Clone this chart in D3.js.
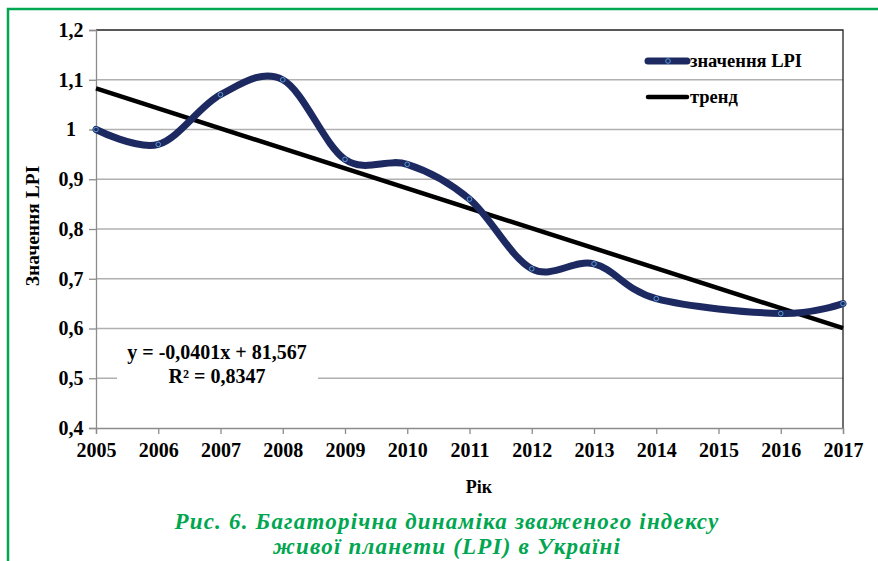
<!DOCTYPE html>
<html>
<head>
<meta charset="utf-8">
<script src="https://cdn.jsdelivr.net/npm/d3@7"></script>
<style>
  body { margin: 0; background: #fff; }
  svg { display: block; font-family: "Liberation Serif", "Times New Roman", serif; }
</style>
</head>
<body>
<svg id="chart"></svg>
<script>
// values (2015 has no point)
const years = [2005, 2006, 2007, 2008, 2009, 2010, 2011, 2012, 2013, 2014, 2016, 2017];
const lpi = [1.00, 0.97, 1.07, 1.10, 0.94, 0.93, 0.86, 0.72, 0.73, 0.66, 0.63, 0.65];
const xTicks = [2005, 2006, 2007, 2008, 2009, 2010, 2011, 2012, 2013, 2014, 2015, 2016, 2017];
const yTicks = [0.4, 0.5, 0.6, 0.7, 0.8, 0.9, 1.0, 1.1, 1.2];
const legendNames = ["значення LPI", "тренд"];
const eqLines = ["y = -0,0401x + 81,567", "R² = 0,8347"];
const caption = ["Рис. 6. Багаторічна динаміка зваженого індексу", "живої планети (LPI) в Україні"];

const width = 878, height = 561;
const navy = "#1d2a62", green = "#00a650";

const svg = d3.select("#chart").attr("width", width).attr("height", height);

// green frame
svg.append("rect")
  .attr("x", 8).attr("y", 9).attr("width", 880).attr("height", 570)
  .attr("fill", "none").attr("stroke", green).attr("stroke-width", 2.5);

const x = d3.scaleLinear().domain([2005, 2017]).range([96, 843]);
const y = d3.scaleLinear().domain([0.4, 1.2]).range([428, 30]);

// gridlines
svg.append("g")
  .selectAll("line")
  .data(yTicks.filter(d => d > 0.4 && d < 1.2))
  .join("line")
  .attr("x1", x(2005)).attr("x2", x(2017))
  .attr("y1", d => y(d)).attr("y2", d => y(d))
  .attr("stroke", "#b0b0b0").attr("stroke-width", 1.3);

// plot border top and right (black)
svg.append("path")
  .attr("d", `M${x(2005)},${y(1.2)}H${x(2017)}V${y(0.4)}`)
  .attr("fill", "none").attr("stroke", "#222").attr("stroke-width", 1.3);

// y axis
const yAxis = svg.append("g")
  .attr("transform", `translate(${x(2005)},0)`)
  .call(d3.axisLeft(y).tickValues(yTicks).tickSize(7).tickPadding(18)
    .tickFormat(d => d === 1 ? "1" : d3.format(".1f")(d).replace(".", ",")));
yAxis.select(".domain").attr("stroke", "#8c8c8c").attr("stroke-width", 1.3);
yAxis.selectAll(".tick line").attr("stroke", "#8c8c8c").attr("stroke-width", 1.3);
yAxis.selectAll(".tick text")
  .attr("text-anchor", "middle")
  .attr("fill", "#000").attr("font-size", 20).attr("font-weight", "bold")
  .attr("font-family", "Liberation Serif");

// x axis
const xAxis = svg.append("g")
  .attr("transform", `translate(0,${y(0.4)})`)
  .call(d3.axisBottom(x).tickValues(xTicks).tickSize(6).tickPadding(9).tickFormat(d3.format("d")));
xAxis.select(".domain").attr("stroke", "#8c8c8c").attr("stroke-width", 1.3);
xAxis.selectAll(".tick line").attr("stroke", "#8c8c8c").attr("stroke-width", 1.3);
xAxis.selectAll(".tick text")
  .attr("fill", "#000").attr("font-size", 20).attr("font-weight", "bold")
  .attr("font-family", "Liberation Serif");

// trend line (least squares over the plotted points)
const mx = d3.mean(years), my = d3.mean(lpi);
const slope = d3.sum(years, (v, i) => (v - mx) * (lpi[i] - my)) / d3.sum(years, v => (v - mx) ** 2);
const trendAt = t => my + slope * (t - mx);
svg.append("line")
  .attr("x1", x(2005)).attr("y1", y(trendAt(2005)))
  .attr("x2", x(2017)).attr("y2", y(trendAt(2017)))
  .attr("stroke", "#000").attr("stroke-width", 4.5);

// equation label
const eq = svg.append("g");
eq.append("rect").attr("x", 117).attr("y", 336).attr("width", 201).attr("height", 50).attr("fill", "#fff");
eq.selectAll("text")
  .data(eqLines)
  .join("text")
  .attr("x", 217).attr("y", (d, i) => 359 + i * 24)
  .attr("text-anchor", "middle")
  .attr("font-size", 20).attr("font-weight", "bold")
  .text(d => d);

// LPI smoothed line
const pts = years.map((t, i) => [x(t), y(lpi[i])]);
svg.append("path")
  .datum(pts)
  .attr("d", d3.line().curve(d3.curveCatmullRom.alpha(0)))
  .attr("fill", "none").attr("stroke", navy).attr("stroke-width", 7)
  .attr("stroke-linecap", "round");

svg.append("g")
  .selectAll("circle")
  .data(pts)
  .join("circle")
  .attr("cx", d => d[0]).attr("cy", d => d[1]).attr("r", 2.3)
  .attr("fill", navy).attr("stroke", "#5b9bd5").attr("stroke-width", 1);

// legend
const leg = svg.append("g").attr("transform", "translate(648,0)");
leg.append("line").attr("x1", 0).attr("x2", 39).attr("y1", 61).attr("y2", 61)
  .attr("stroke", navy).attr("stroke-width", 7).attr("stroke-linecap", "round");
leg.append("circle").attr("cx", 20).attr("cy", 61).attr("r", 2.3)
  .attr("fill", navy).attr("stroke", "#5b9bd5").attr("stroke-width", 1);
leg.append("line").attr("x1", 0).attr("x2", 39).attr("y1", 97).attr("y2", 97)
  .attr("stroke", "#000").attr("stroke-width", 4.5).attr("stroke-linecap", "round");
leg.selectAll("text")
  .data(legendNames)
  .join("text")
  .attr("x", 42).attr("y", (d, i) => 67 + i * 36)
  .attr("font-size", 18.5).attr("font-weight", "bold")
  .text(d => d);

// axis titles
svg.append("text")
  .attr("x", 479).attr("y", 493)
  .attr("text-anchor", "middle")
  .attr("font-size", 18).attr("font-weight", "bold")
  .text("Рік");
svg.append("text")
  .attr("transform", "translate(39,226) rotate(-90)")
  .attr("text-anchor", "middle")
  .attr("font-size", 19.5).attr("font-weight", "bold")
  .text("Значення LPI");

// caption
svg.selectAll(".cap")
  .data(caption)
  .join("text")
  .attr("class", "cap")
  .attr("x", 447).attr("y", (d, i) => 529 + i * 25)
  .attr("text-anchor", "middle")
  .attr("fill", green)
  .attr("font-size", 23).attr("font-weight", "bold").attr("font-style", "italic")
  .attr("letter-spacing", 1.2)
  .text(d => d);
</script>
</body>
</html>
